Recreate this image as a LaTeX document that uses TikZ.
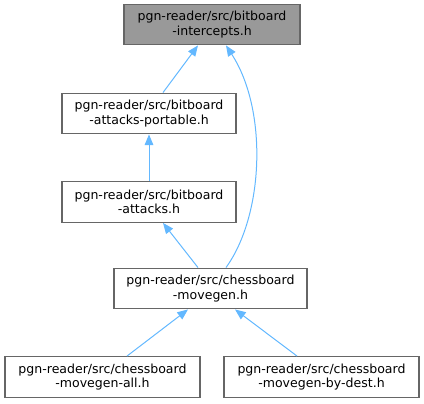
\documentclass[tikz,border=0pt]{standalone}
\usepackage{fontspec}
\setmainfont{DejaVu Sans}
\usetikzlibrary{arrows.meta,calc}
\definecolor{edgeblue}{HTML}{63B8FF}
\definecolor{boxgray}{HTML}{666666}
\definecolor{topfill}{HTML}{999999}
\begin{document}
\begin{tikzpicture}[x=0.75pt,y=-0.75pt,
  file/.style={draw=boxgray,line width=0.9pt,fill=white,align=center,inner sep=0pt,
    minimum height=30.5pt,font=\fontsize{9.4pt}{10.8pt}\selectfont},
  edge/.style={draw=edgeblue,line width=0.75pt,-{Triangle[length=8pt,width=6.5pt]}}]
\useasboundingbox (0,0) rectangle (424,403);
\node[file,fill=topfill,minimum width=132pt] (top) at (212,24.5) {pgn-reader/src/bitboard\\-intercepts.h};
\node[file,minimum width=130.5pt] (port) at (149,113.5) {pgn-reader/src/bitboard\\-attacks-portable.h};
\node[file,minimum width=130.5pt] (att) at (149,202) {pgn-reader/src/bitboard\\-attacks.h};
\node[file,minimum width=144.75pt] (mg) at (210.5,288.5) {pgn-reader/src/chessboard\\-movegen.h};
\node[file,minimum width=146.25pt] (all) at (102.5,377) {pgn-reader/src/chessboard\\-movegen-all.h};
\node[file,minimum width=146.25pt] (dest) at (321.5,377) {pgn-reader/src/chessboard\\-movegen-by-dest.h};
\draw[edge] ($(port.north)+(14,0)$) -- ($(top.south)+(-14,0)$);
\draw[edge] (att.north) -- (port.south);
\draw[edge] ($(mg.north)+(-12.5,0)$) -- ($(att.south)+(14,0)$);
\draw[edge] ($(mg.north)+(15.5,0)$) .. controls (264,215) and (268,110) .. ($(top.south)+(14,0)$);
\draw[edge] ($(all.north)+(24.5,0)$) -- ($(mg.south)+(-22.5,0)$);
\draw[edge] ($(dest.north)+(-24.5,0)$) -- ($(mg.south)+(24.5,0)$);
\end{tikzpicture}
\end{document}
